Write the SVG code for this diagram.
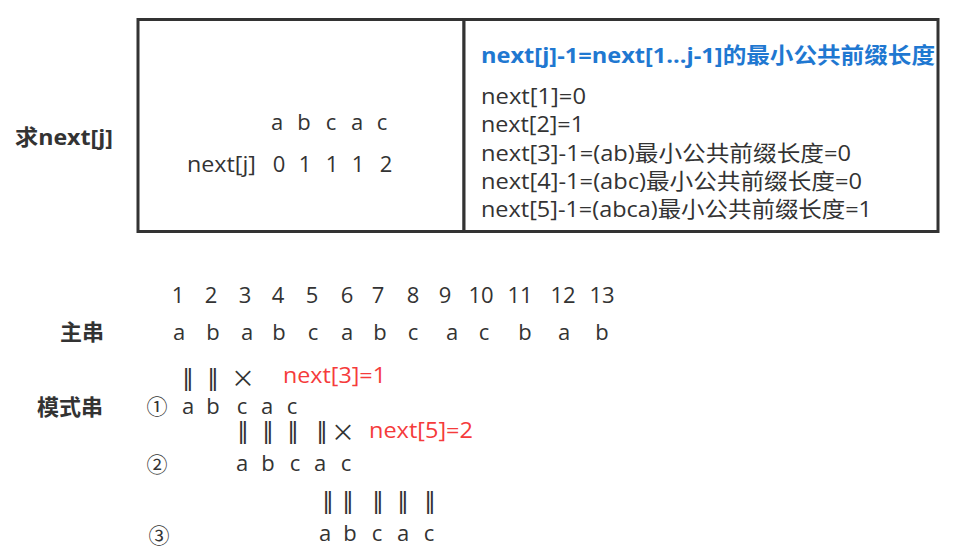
<svg xmlns="http://www.w3.org/2000/svg" width="955" height="559" viewBox="0 0 955 559">
<style>
text{font-family:"Open Sans","Noto Sans CJK SC",sans-serif;font-size:22px;fill:#333}
.b{font-weight:bold}
.blue{fill:#1F78D1;font-weight:bold}
.red{fill:#F53B3B}
.c{text-anchor:middle}
.mk{font-family:"DejaVu Sans",sans-serif;font-size:23px;text-anchor:middle;fill:#333}
.x{font-family:"Noto Sans CJK SC",sans-serif;font-size:24px;text-anchor:middle;fill:#333}
.circ{font-family:"Noto Sans CJK SC",sans-serif;font-size:21px;text-anchor:middle}
.box{fill:#fff;stroke:#333;stroke-width:3}
</style>
<rect width="955" height="559" fill="#fff"/>
<g id="label-next"><text class="b" x="15" y="145" textLength="98" lengthAdjust="spacingAndGlyphs">求next[j]</text></g>
<g id="box-left">
<rect class="box" x="138" y="19.5" width="326" height="212"/>
<text class="c"><tspan x="277" y="130">a</tspan><tspan x="304" y="130">b</tspan><tspan x="331" y="130">c</tspan><tspan x="357" y="130">a</tspan><tspan x="382" y="130">c</tspan></text>
<text x="187" y="172" textLength="69" lengthAdjust="spacingAndGlyphs">next[j]</text>
<text class="c"><tspan x="279" y="172">0</tspan><tspan x="305" y="172">1</tspan><tspan x="332" y="172">1</tspan><tspan x="358" y="172">1</tspan><tspan x="386" y="172">2</tspan></text>
</g>
<g id="box-right">
<rect class="box" x="464" y="19.5" width="474" height="212"/>
<text class="blue" x="481" y="63" textLength="454" lengthAdjust="spacingAndGlyphs">next[j]-1=next[1...j-1]的最小公共前缀长度</text>
<text x="481" y="104" textLength="105" lengthAdjust="spacingAndGlyphs">next[1]=0</text>
<text x="481" y="132" textLength="103" lengthAdjust="spacingAndGlyphs">next[2]=1</text>
<text x="481" y="161" textLength="370" lengthAdjust="spacingAndGlyphs">next[3]-1=(ab)最小公共前缀长度=0</text>
<text x="481" y="189" textLength="381" lengthAdjust="spacingAndGlyphs">next[4]-1=(abc)最小公共前缀长度=0</text>
<text x="481" y="217" textLength="391" lengthAdjust="spacingAndGlyphs">next[5]-1=(abca)最小公共前缀长度=1</text>
</g>
<g id="indices">
<text class="c"><tspan x="178" y="303">1</tspan><tspan x="211" y="303">2</tspan><tspan x="245" y="303">3</tspan><tspan x="278" y="303">4</tspan><tspan x="312" y="303">5</tspan><tspan x="347" y="303">6</tspan><tspan x="378" y="303">7</tspan><tspan x="413" y="303">8</tspan><tspan x="445" y="303">9</tspan><tspan x="481" y="303">10</tspan><tspan x="520" y="303">11</tspan><tspan x="563" y="303">12</tspan><tspan x="602" y="303">13</tspan></text>
</g>
<g id="main-string">
<text class="b" x="60" y="340">主串</text>
<text class="c"><tspan x="179" y="340">a</tspan><tspan x="213" y="340">b</tspan><tspan x="247" y="340">a</tspan><tspan x="279" y="340">b</tspan><tspan x="313" y="340">c</tspan><tspan x="347" y="340">a</tspan><tspan x="380" y="340">b</tspan><tspan x="413" y="340">c</tspan><tspan x="452" y="340">a</tspan><tspan x="484" y="340">c</tspan><tspan x="525" y="340">b</tspan><tspan x="564" y="340">a</tspan><tspan x="602" y="340">b</tspan></text>
</g>
<g id="pattern-label"><text class="b" x="37" y="415">模式串</text></g>
<g id="attempt-1">
<text class="mk"><tspan x="188" y="386">‖</tspan><tspan x="213" y="386">‖</tspan></text>
<text class="x" x="243" y="387">×</text>
<text class="red" x="283" y="383" textLength="103" lengthAdjust="spacingAndGlyphs">next[3]=1</text>
<text class="circ" x="157" y="414">①</text>
<text class="c"><tspan x="188" y="414">a</tspan><tspan x="213" y="414">b</tspan><tspan x="242" y="414">c</tspan><tspan x="267" y="414">a</tspan><tspan x="292" y="414">c</tspan></text>
</g>
<g id="attempt-2">
<text class="mk"><tspan x="243" y="439">‖</tspan><tspan x="268" y="439">‖</tspan><tspan x="293" y="439">‖</tspan><tspan x="322" y="439">‖</tspan></text>
<text class="x" x="343" y="441">×</text>
<text class="red" x="369" y="438" textLength="104" lengthAdjust="spacingAndGlyphs">next[5]=2</text>
<text class="circ" x="157" y="472">②</text>
<text class="c"><tspan x="242" y="471">a</tspan><tspan x="268" y="471">b</tspan><tspan x="295" y="471">c</tspan><tspan x="320" y="471">a</tspan><tspan x="346" y="471">c</tspan></text>
</g>
<g id="attempt-3">
<text class="mk"><tspan x="328" y="509">‖</tspan><tspan x="348" y="509">‖</tspan><tspan x="378" y="509">‖</tspan><tspan x="403" y="509">‖</tspan><tspan x="430" y="509">‖</tspan></text>
<text class="circ" x="159" y="543">③</text>
<text class="c"><tspan x="325" y="541">a</tspan><tspan x="350" y="541">b</tspan><tspan x="377" y="541">c</tspan><tspan x="403" y="541">a</tspan><tspan x="429" y="541">c</tspan></text>
</g>
<g id="connectors"></g>
</svg>
